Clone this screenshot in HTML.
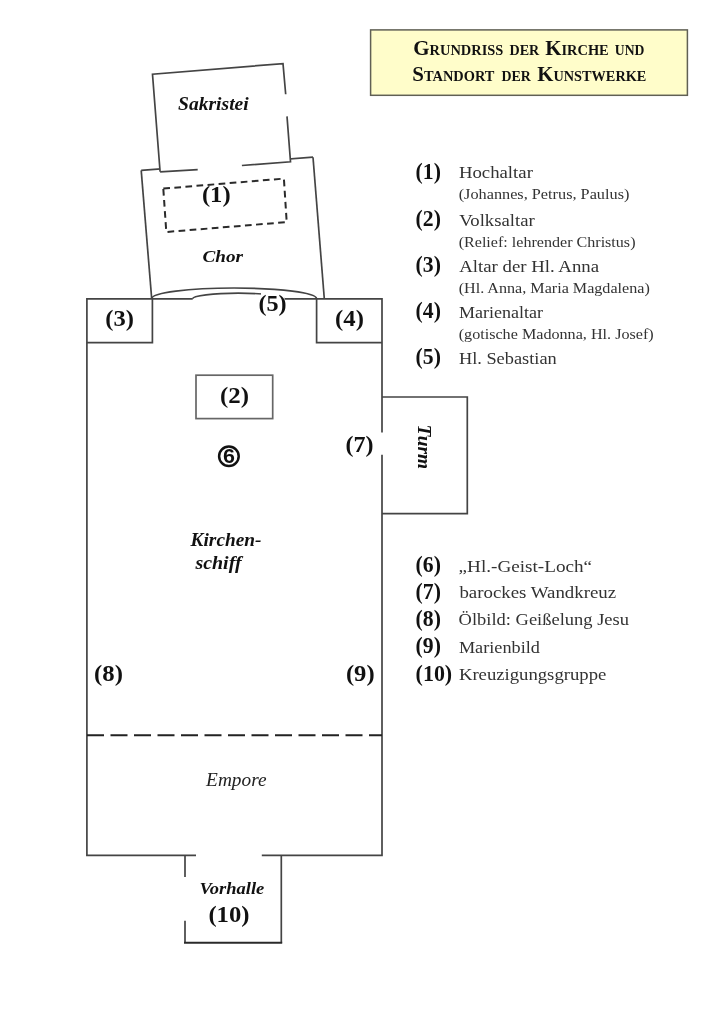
<!DOCTYPE html>
<html>
<head>
<meta charset="utf-8">
<style>
html,body{margin:0;padding:0;background:#fff;}
body{width:724px;height:1024px;overflow:hidden;}
svg{display:block;will-change:transform;}
text{font-family:"Liberation Serif",serif;}
.lb{font-weight:bold;fill:#111;}
.it{font-style:italic;font-weight:bold;fill:#111;}
.lg{fill:#333;}
.ln{font-weight:bold;fill:#111;}
</style>
</head>
<body>
<svg width="724" height="1024" viewBox="0 0 724 1024">
<rect x="0" y="0" width="724" height="1024" fill="#fff"/>

<!-- Title box -->
<rect x="370.6" y="29.9" width="316.8" height="65.4" fill="#fffdca" stroke="#606055" stroke-width="1.5"/>
<text x="413.3" y="55.3" class="lb" textLength="90.1" lengthAdjust="spacingAndGlyphs"><tspan font-size="21.8">G</tspan><tspan font-size="15">RUNDRISS</tspan></text>
<text x="509.5" y="55.3" class="lb" font-size="15" textLength="29.8" lengthAdjust="spacingAndGlyphs">DER</text>
<text x="545.2" y="55.3" class="lb" textLength="63.5" lengthAdjust="spacingAndGlyphs"><tspan font-size="21.8">K</tspan><tspan font-size="15">IRCHE</tspan></text>
<text x="614.8" y="55.3" class="lb" font-size="15" textLength="29.6" lengthAdjust="spacingAndGlyphs">UND</text>
<text x="412.3" y="80.6" class="lb" textLength="82.1" lengthAdjust="spacingAndGlyphs"><tspan font-size="21.8">S</tspan><tspan font-size="15">TANDORT</tspan></text>
<text x="501.4" y="80.6" class="lb" font-size="15" textLength="29.4" lengthAdjust="spacingAndGlyphs">DER</text>
<text x="537.3" y="80.6" class="lb" textLength="109.1" lengthAdjust="spacingAndGlyphs"><tspan font-size="21.8">K</tspan><tspan font-size="15">UNSTWERKE</tspan></text>

<g fill="none" stroke="#444" stroke-width="1.7" stroke-linecap="butt">
  <!-- Chor -->
  <line x1="141.2" y1="170.4" x2="313" y2="157.2"/>
  <line x1="141.2" y1="170.4" x2="151.7" y2="298.8"/>
  <line x1="313" y1="157.2" x2="324.3" y2="298.8"/>
  <!-- Sakristei (white fill covering chor top) -->
  <polygon points="152.5,74.2 283,63.6 290.5,161.8 160.1,171.8" fill="#fff" stroke="none"/>
  <path d="M160.1,171.8 L152.5,74.2 L283,63.6 L285.7,94.3"/>
  <path d="M287,116.4 L290.5,161.8 L241.9,165.5"/>
  <path d="M197.7,169.6 L160.1,171.8"/>
  <!-- dashed altar -->
  <path d="M163.3,188.6 L283.9,178.6 L286.7,222.1 L166.3,232 Z" stroke="#2a2a2a" stroke-width="2" stroke-dasharray="6.7 4.4"/>
  <!-- arcs -->
  <path d="M151.7,298.6 A82.4,10.6 0 0 1 316.5,298.6"/>
  <path d="M192.7,298.8 A45.7,5.6 0 0 1 284.1,298.8"/>
  <!-- nave -->
  <path d="M192.7,298.8 L86.9,298.8 L86.9,855.4 L196,855.4"/>
  <path d="M284.1,298.8 L382,298.8 L382,432.4"/>
  <path d="M382,454.7 L382,855.4 L261.8,855.4"/>
  <!-- boxes 3/4 -->
  <path d="M86.9,342.7 L152.4,342.7 L152.4,298.8"/>
  <path d="M316.6,298.8 L316.6,342.6 L382,342.6"/>
  <!-- box 2 -->
  <rect x="196" y="375.2" width="76.7" height="43.4" stroke="#666"/>
  <!-- tower -->
  <path d="M382,397 L467.3,397 L467.3,513.6 L382,513.6"/>
  <!-- vorhalle -->
  <path d="M185,855.4 L185,877"/>
  <path d="M185,920.8 L185,942.7"/>
  <path d="M281.3,942.7 L281.3,855.4"/>
  <line x1="184" y1="942.7" x2="282.2" y2="942.7" stroke="#2a2a2a" stroke-width="2"/>
</g>
<!-- empore dashed line -->
<line x1="87" y1="735.3" x2="382" y2="735.3" stroke="#222" stroke-width="2" stroke-dasharray="17 6.5"/>

<!-- circled 6 -->
<circle cx="228.9" cy="456.3" r="9.8" fill="none" stroke="#111" stroke-width="2.5"/>
<text transform="translate(229,463.1) scale(1.1,1)" x="0" y="0" font-family="Liberation Sans" font-weight="bold" font-size="19.5" fill="#111" text-anchor="middle" style="font-family:'Liberation Sans',sans-serif">6</text>

<!-- labels in plan -->
<text x="178" y="109.5" class="it" font-size="19.5" textLength="70.7" lengthAdjust="spacingAndGlyphs">Sakristei</text>
<text x="202.5" y="262.0" class="it" font-size="17.4" textLength="40.5" lengthAdjust="spacingAndGlyphs">Chor</text>
<text x="201.9" y="201.5" class="lb" font-size="23.6" textLength="28.7" lengthAdjust="spacingAndGlyphs">(1)</text>
<text x="105.2" y="326.1" class="lb" font-size="23.6" textLength="28.7" lengthAdjust="spacingAndGlyphs">(3)</text>
<text x="335.1" y="326.1" class="lb" font-size="23.6" textLength="28.8" lengthAdjust="spacingAndGlyphs">(4)</text>
<rect x="261" y="292.5" width="23.5" height="8" fill="#fff"/>
<text x="258.4" y="310.7" class="lb" font-size="23.3" textLength="28.2" lengthAdjust="spacingAndGlyphs">(5)</text>
<text x="220.0" y="402.5" class="lb" font-size="23.7" textLength="29.0" lengthAdjust="spacingAndGlyphs">(2)</text>
<text x="345.6" y="452.2" class="lb" font-size="23.6" textLength="28.0" lengthAdjust="spacingAndGlyphs">(7)</text>
<text x="94.0" y="681.4" class="lb" font-size="23.8" textLength="28.9" lengthAdjust="spacingAndGlyphs">(8)</text>
<text x="345.9" y="681.4" class="lb" font-size="23.8" textLength="28.7" lengthAdjust="spacingAndGlyphs">(9)</text>
<text x="190.6" y="546.0" class="it" font-size="18.8" textLength="70.9" lengthAdjust="spacingAndGlyphs">Kirchen-</text>
<text x="195.4" y="568.6" class="it" font-size="19" textLength="46.2" lengthAdjust="spacingAndGlyphs">schiff</text>
<text transform="translate(418.4,424.6) rotate(90)" class="it" font-size="19.4">Turm</text>
<text x="206.1" y="786.1" font-size="19.4" font-style="italic" fill="#222" textLength="60.4" lengthAdjust="spacingAndGlyphs">Empore</text>
<text x="199.5" y="893.7" class="it" font-size="16.6" textLength="64.8" lengthAdjust="spacingAndGlyphs">Vorhalle</text>
<text x="208.4" y="921.6" class="lb" font-size="23.6" textLength="41.2" lengthAdjust="spacingAndGlyphs">(10)</text>

<!-- legend -->
<g font-size="23" class="ln">
<text x="415.6" y="179.3" textLength="25.3" lengthAdjust="spacingAndGlyphs">(1)</text>
<text x="415.6" y="226.3" textLength="25.3" lengthAdjust="spacingAndGlyphs">(2)</text>
<text x="415.6" y="272.1" textLength="25.3" lengthAdjust="spacingAndGlyphs">(3)</text>
<text x="415.6" y="318.2" textLength="25.3" lengthAdjust="spacingAndGlyphs">(4)</text>
<text x="415.6" y="364.3" textLength="25.3" lengthAdjust="spacingAndGlyphs">(5)</text>
<text x="415.6" y="571.7" textLength="25.3" lengthAdjust="spacingAndGlyphs">(6)</text>
<text x="415.6" y="598.8" textLength="25.3" lengthAdjust="spacingAndGlyphs">(7)</text>
<text x="415.6" y="625.9" textLength="25.3" lengthAdjust="spacingAndGlyphs">(8)</text>
<text x="415.6" y="653.2" textLength="25.3" lengthAdjust="spacingAndGlyphs">(9)</text>
<text x="415.6" y="680.6" textLength="36.6" lengthAdjust="spacingAndGlyphs">(10)</text>
</g>
<g class="lg" font-size="17.3">
<text x="458.9" y="177.9" textLength="74.0" lengthAdjust="spacingAndGlyphs">Hochaltar</text>
<text x="459.2" y="225.7" textLength="75.5" lengthAdjust="spacingAndGlyphs">Volksaltar</text>
<text x="459.2" y="271.6" textLength="139.9" lengthAdjust="spacingAndGlyphs">Altar der Hl. Anna</text>
<text x="458.9" y="317.7" textLength="84.0" lengthAdjust="spacingAndGlyphs">Marienaltar</text>
<text x="458.9" y="364.0" textLength="97.8" lengthAdjust="spacingAndGlyphs">Hl. Sebastian</text>
<text x="458.6" y="571.9" textLength="133.5" lengthAdjust="spacingAndGlyphs">„Hl.-Geist-Loch“</text>
<text x="459.4" y="597.9" textLength="156.7" lengthAdjust="spacingAndGlyphs">barockes Wandkreuz</text>
<text x="458.6" y="625.2" textLength="170.4" lengthAdjust="spacingAndGlyphs">Ölbild: Geißelung Jesu</text>
<text x="458.9" y="652.6" textLength="81.0" lengthAdjust="spacingAndGlyphs">Marienbild</text>
<text x="458.9" y="680.0" textLength="147.4" lengthAdjust="spacingAndGlyphs">Kreuzigungsgruppe</text>
</g>
<g class="lg" font-size="15">
<text x="458.7" y="199.2" textLength="170.7" lengthAdjust="spacingAndGlyphs">(Johannes, Petrus, Paulus)</text>
<text x="458.7" y="246.7" textLength="176.8" lengthAdjust="spacingAndGlyphs">(Relief: lehrender Christus)</text>
<text x="458.7" y="292.6" textLength="191.1" lengthAdjust="spacingAndGlyphs">(Hl. Anna, Maria Magdalena)</text>
<text x="458.7" y="338.7" textLength="195.0" lengthAdjust="spacingAndGlyphs">(gotische Madonna, Hl. Josef)</text>
</g>
</svg>
</body>
</html>
